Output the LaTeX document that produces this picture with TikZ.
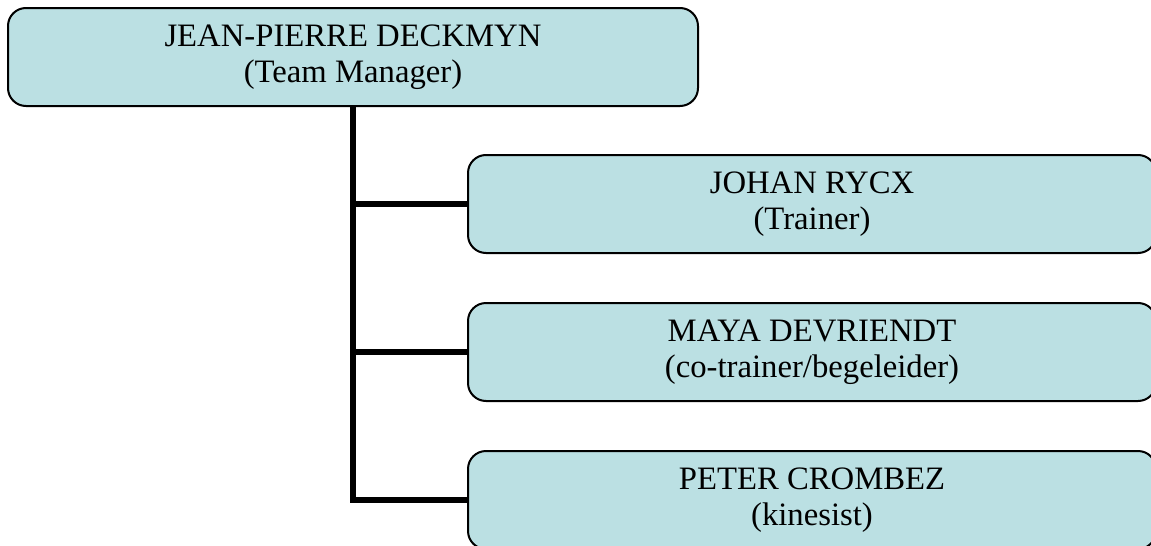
\documentclass[tikz,border=0pt]{standalone}
\usepackage{fontspec}
\setmainfont{Liberation Serif}
\definecolor{boxfill}{RGB}{187,224,227}
\tikzset{
  orgbox/.style={draw=black, line width=2pt, fill=boxfill, rounded corners=18pt,
    align=center, inner sep=0pt, font=\fontsize{32.7pt}{35.5pt}\selectfont},
  link/.style={line width=5.5pt, draw=black}
}
\begin{document}
\begin{tikzpicture}[x=1pt,y=-1pt]
\useasboundingbox (0,0) rectangle (1151,546);
\node[orgbox, minimum width=690pt, minimum height=98pt] (top) at (353,57) {JEAN-PIERRE DECKMYN\\(Team Manager)};
\node[orgbox, minimum width=688pt, minimum height=98pt] (c1) at (812,204) {JOHAN RYCX\\(Trainer)};
\node[orgbox, minimum width=688pt, minimum height=98pt] (c2) at (812,352) {MAYA DEVRIENDT\\(co-trainer/begeleider)};
\node[orgbox, minimum width=688pt, minimum height=98pt] (c3) at (812,500) {PETER CROMBEZ\\(kinesist)};
\draw[link] (top.south) |- (c3.west);
\draw[link] (top.south |- c1.west) -- (c1.west);
\draw[link] (top.south |- c2.west) -- (c2.west);
\end{tikzpicture}
\end{document}
